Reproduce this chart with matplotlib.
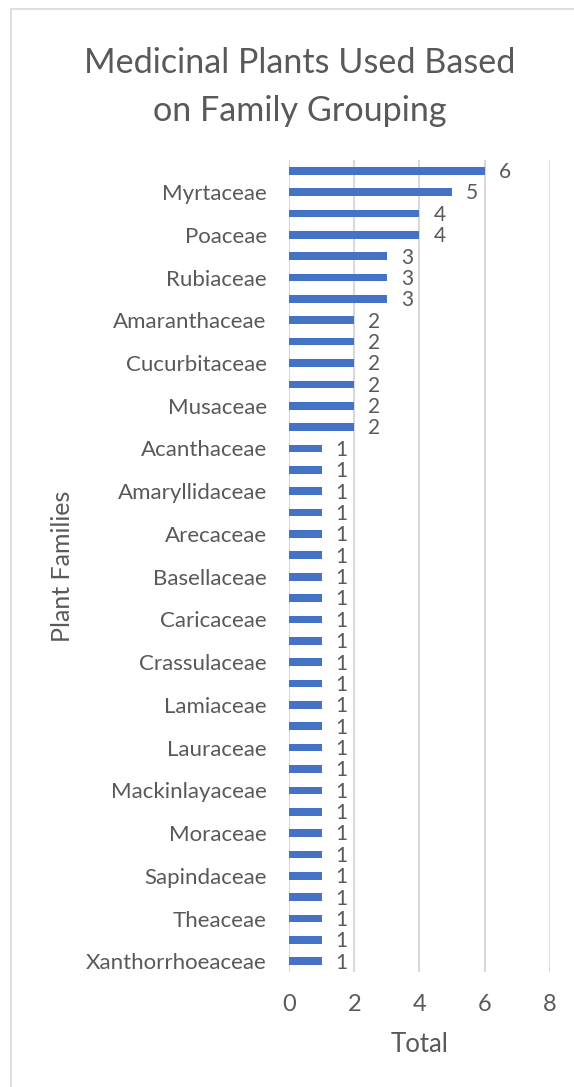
import matplotlib.pyplot as plt
from matplotlib.patches import Rectangle

# families listed top to bottom, as in the chart
families = [
    'Zingiberaceae', 'Myrtaceae', 'Asteraceae', 'Poaceae',
    'Euphorbiaceae', 'Rubiaceae', 'Solanaceae',
    'Amaranthaceae', 'Annonaceae', 'Cucurbitaceae', 'Fabaceae', 'Musaceae', 'Piperaceae',
    'Acanthaceae', 'Alliaceae', 'Amaryllidaceae', 'Araceae', 'Arecaceae', 'Asparagaceae',
    'Basellaceae', 'Bromeliaceae', 'Caricaceae', 'Clusiaceae', 'Crassulaceae', 'Gnetaceae',
    'Lamiaceae', 'Lardizabalaceae', 'Lauraceae', 'Loranthaceae', 'Mackinlayaceae', 'Malvaceae',
    'Moraceae', 'Oxalidaceae', 'Sapindaceae', 'Sapotaceae', 'Theaceae', 'Urticaceae',
    'Xanthorrhoeaceae',
]
totals = [6, 5, 4, 4, 3, 3, 3, 2, 2, 2, 2, 2, 2] + [1] * 25
x_ticks = [0, 2, 4, 6, 8]

text_color = '#595959'
grid_color = '#D9D9D9'
bar_color = '#4472C4'
plt.rcParams['font.family'] = ['Lato', 'DejaVu Sans']

fig = plt.figure(figsize=(5.74, 10.87), dpi=100)
fig.patches.append(Rectangle((11 / 574, -0.1), 1.2, 1 - 9 / 1087 + 0.1,
                             transform=fig.transFigure, fill=False,
                             edgecolor=grid_color, linewidth=1.2))

ax = fig.add_axes([289 / 574, 1 - 972 / 1087, 261 / 574, 812 / 1087])
pos = list(range(len(families)))
bars = ax.barh(pos, totals, height=0.36, color=bar_color, zorder=3)
for y, v in zip(pos, totals):
    ax.annotate(str(v), (v, y), xytext=(10, -1), textcoords='offset points',
                ha='left', va='center', fontsize=15, color=text_color)

ax.set_ylim(len(families) - 0.5, -0.5)
ax.set_xlim(0, 8)
ax.set_xticks(x_ticks)
ax.set_yticks(pos)
ax.set_yticklabels([f if i % 2 == 1 else '' for i, f in enumerate(families)])
ax.tick_params(axis='y', length=0, pad=16, labelsize=16, labelcolor=text_color)
ax.tick_params(axis='x', length=0, pad=16, labelsize=17, labelcolor=text_color)

ax.grid(axis='x', color=grid_color, linewidth=1.5, zorder=0)
for s in ax.spines.values():
    s.set_visible(False)

ax.set_xlabel('Total', fontsize=18.5, color=text_color, labelpad=12)
fig.text(63 / 574, 1 - 566 / 1087, 'Plant Families', rotation=90, ha='center', va='center',
         fontsize=18, color=text_color)
fig.text(0.522, 1 - 87 / 1087, 'Medicinal Plants Used Based\non Family Grouping',
         ha='center', va='center', fontsize=24.6, color=text_color, linespacing=1.65)

fig.savefig('out.png', dpi=100)
